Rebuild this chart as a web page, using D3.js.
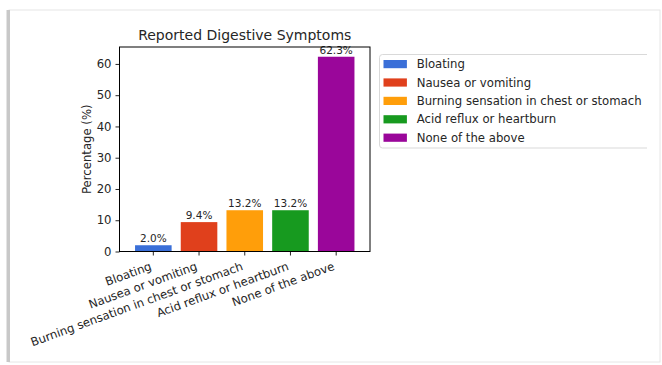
<!DOCTYPE html>
<html>
<head>
<meta charset="utf-8">
<script src="https://cdn.jsdelivr.net/npm/d3@7"></script>
<style>
  html, body { margin: 0; padding: 0; background: #ffffff; }
  svg { display: block; font-family: "DejaVu Sans", sans-serif; }
</style>
</head>
<body>
<svg id="chart" width="662" height="365"></svg>
<script>
// Survey results: share of respondents reporting each symptom
const categories = [
  "Bloating",
  "Nausea or vomiting",
  "Burning sensation in chest or stomach",
  "Acid reflux or heartburn",
  "None of the above"
];
const percentages = [2.0, 9.4, 13.2, 13.2, 62.3];
const barColors = ["#3a6fd8", "#e0401c", "#ff9e0a", "#179a1f", "#9a069a"];
const yTicks = [0, 10, 20, 30, 40, 50, 60];

const svg = d3.select("#chart");
const textColor = "#262626";

// Page frame with a soft shadow on the left
const frame = svg.append("g");
frame.append("rect").attr("x", 9).attr("y", 10).attr("width", 651).attr("height", 352)
  .attr("fill", "#ffffff").attr("stroke", "#e6e6e6").attr("stroke-width", 1);
frame.append("rect").attr("x", 7).attr("y", 10).attr("width", 3).attr("height", 352)
  .attr("fill", "#c8c8c8");
frame.append("rect").attr("x", 6).attr("y", 10).attr("width", 1).attr("height", 352)
  .attr("fill", "#e4e4e4");

// Axes box
const plot = { left: 119.5, right: 370, top: 47, bottom: 251.5 };

const x = d3.scaleBand()
  .domain(categories)
  .range([plot.left, plot.right])
  .paddingInner(0.2)
  .paddingOuter(0.2 / 2 + 0.24);   // axis margins on both ends

const y = d3.scaleLinear()
  .domain([0, d3.max(percentages) * 1.05])
  .range([plot.bottom, plot.top]);

// Bars
svg.append("g").selectAll("rect")
  .data(categories)
  .join("rect")
  .attr("x", d => x(d))
  .attr("y", (d, i) => y(percentages[i]))
  .attr("width", x.bandwidth())
  .attr("height", (d, i) => y(0) - y(percentages[i]))
  .attr("fill", (d, i) => barColors[i]);

// Value labels above bars
svg.append("g").selectAll("text")
  .data(categories)
  .join("text")
  .attr("x", d => x(d) + x.bandwidth() / 2)
  .attr("y", (d, i) => y(percentages[i]) - 3)
  .attr("text-anchor", "middle")
  .attr("font-size", 10.5)
  .attr("fill", textColor)
  .text((d, i) => percentages[i].toFixed(1) + "%");

// Y axis
const yAxis = svg.append("g")
  .attr("transform", `translate(${plot.left},0)`)
  .call(d3.axisLeft(y).tickValues(yTicks).tickSize(4).tickPadding(4).tickFormat(d3.format("d")));
yAxis.select(".domain").remove();
yAxis.selectAll("text").attr("font-size", 11.7).attr("fill", textColor).attr("font-family", "DejaVu Sans");
yAxis.selectAll("line").attr("stroke", textColor);

// X axis: ticks only, rotated labels anchored at their right end
const xAxis = svg.append("g")
  .attr("transform", `translate(0,${plot.bottom})`)
  .call(d3.axisBottom(x).tickSize(4).tickFormat(""));
xAxis.select(".domain").remove();
xAxis.selectAll("line").attr("stroke", textColor);

svg.append("g").selectAll("text")
  .data(categories)
  .join("text")
  .attr("transform", d => `translate(${x(d) + x.bandwidth() / 2 - 1},${plot.bottom + 18}) rotate(-20)`)
  .attr("text-anchor", "end")
  .attr("font-size", 11.7)
  .attr("fill", textColor)
  .text(d => d);

// Spines
svg.append("rect")
  .attr("x", plot.left).attr("y", plot.top)
  .attr("width", plot.right - plot.left).attr("height", plot.bottom - plot.top)
  .attr("fill", "none").attr("stroke", "#000").attr("stroke-width", 1);

// Title
svg.append("text")
  .attr("x", (plot.left + plot.right) / 2)
  .attr("y", plot.top - 7)
  .attr("text-anchor", "middle")
  .attr("font-size", 14)
  .attr("fill", textColor)
  .text("Reported Digestive Symptoms");

// Y label
svg.append("text")
  .attr("transform", `translate(${plot.left - 29},${(plot.top + plot.bottom) / 2}) rotate(-90)`)
  .attr("text-anchor", "middle")
  .attr("font-size", 11.7)
  .attr("fill", textColor)
  .text("Percentage (%)");

// Legend, cut off at the figure's right edge
svg.append("clipPath").attr("id", "legendClip")
  .append("rect").attr("x", 0).attr("y", 0).attr("width", 647).attr("height", 365);

const legend = svg.append("g").attr("clip-path", "url(#legendClip)");
legend.append("rect")
  .attr("x", 379.5).attr("y", 54.5).attr("width", 290).attr("height", 93.5)
  .attr("rx", 3)
  .attr("fill", "#ffffff").attr("stroke", "#d9d9d9").attr("stroke-width", 1);

const rowStep = 18.4;
const rows = legend.selectAll("g.row")
  .data(categories)
  .join("g")
  .attr("class", "row")
  .attr("transform", (d, i) => `translate(0,${64 + i * rowStep})`);
rows.append("rect")
  .attr("x", 383.5).attr("y", -4).attr("width", 23.4).attr("height", 8.2)
  .attr("fill", (d, i) => barColors[i]);
rows.append("text")
  .attr("x", 416.7).attr("y", 4.2)
  .attr("font-size", 11.7)
  .attr("fill", textColor)
  .text(d => d);
</script>
</body>
</html>
